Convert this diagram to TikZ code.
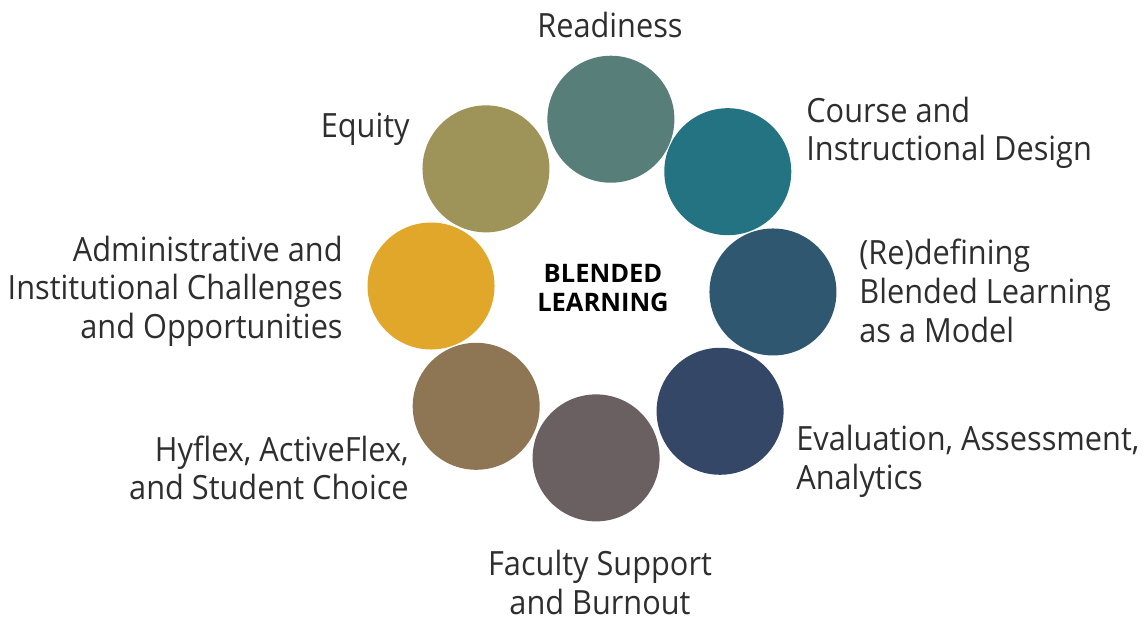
\documentclass[tikz,border=0pt]{standalone}
\usepackage{fontspec}
\setmainfont{Open Sans}
\newfontfamily\labelfont[FakeStretch=0.92]{Open Sans}
\usetikzlibrary{positioning}
\definecolor{cready}{HTML}{577E79}
\definecolor{ccourse}{HTML}{247383}
\definecolor{cmodel}{HTML}{2F5870}
\definecolor{ceval}{HTML}{354767}
\definecolor{cfaculty}{HTML}{6A6062}
\definecolor{chyflex}{HTML}{8E7654}
\definecolor{cadmin}{HTML}{E0A72B}
\definecolor{cequity}{HTML}{9E9358}
\begin{document}
\begin{tikzpicture}[
    disc/.style={circle, minimum size=2.54cm, inner sep=0pt},
    lbl/.style={font=\labelfont\fontsize{19}{22}\selectfont, text=black!82, inner sep=0pt}]
  \useasboundingbox (-12.04,-6.58) rectangle (10.84,5.78);
  \draw
    (87:3.4) node[disc, fill=cready] (0){}
    (43:3.44) node[disc, fill=ccourse] (1){}
    (-1:3.42) node[disc, fill=cmodel] (2){}
    (-46:3.4) node[disc, fill=ceval] (3){}
    (-92:3.38) node[disc, fill=cfaculty] (4){}
    (223:3.44) node[disc, fill=chyflex] (5){}
    (179:3.42) node[disc, fill=cadmin] (6){}
    (134:3.34) node[disc, fill=cequity] (7){};
  \node[font=\bfseries\fontsize{14.5}{17}\selectfont, align=center, inner sep=0pt] (hub) at (0.02,0.02) {BLENDED\\LEARNING};
  \begin{scope}[every node/.style={lbl}]
    \node[anchor=center] (t0) at (0.16,5.28) {Readiness};
    \node[anchor=west, align=left] (t1) at (4.08,3.12) {Course and\\Instructional Design};
    \node[anchor=west, align=left] (t2) at (5.14,-0.04) {(Re)defining\\Blended Learning\\as a Model};
    \node[anchor=west, align=left] (t3) at (3.88,-3.44) {Evaluation, Assessment,\\Analytics};
    \node[anchor=center, align=center] (t4) at (-0.04,-5.87) {Faculty Support\\and Burnout};
    \node[anchor=east, align=right] (t5) at (-3.86,-3.58) {Hyflex, ActiveFlex,\\and Student Choice};
    \node[anchor=east, align=right] (t6) at (-5.18,-0.04) {Administrative and\\Institutional Challenges\\and Opportunities};
    \node[anchor=east] (t7) at (-3.84,3.2) {Equity};
  \end{scope}
\end{tikzpicture}
\end{document}
